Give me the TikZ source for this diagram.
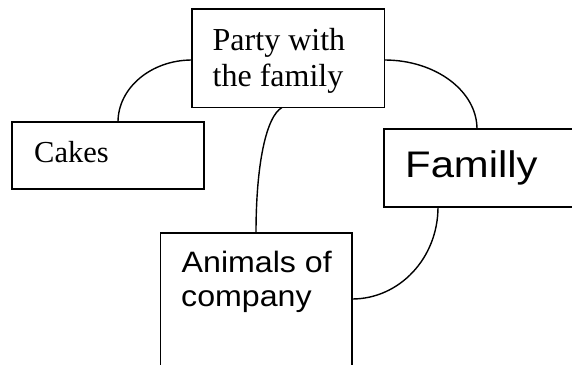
\documentclass[tikz,border=0pt]{standalone}
\usepackage{fontspec}
\setmainfont{Liberation Serif}
\newfontfamily\arialwide[FakeStretch=1.13]{Liberation Sans}
\newfontfamily\arialmid[FakeStretch=1.09]{Liberation Sans}
\usetikzlibrary{calc}
\tikzset{
  topicbox/.style={draw, line width=1.9pt, inner sep=0pt, outer sep=0pt, anchor=north west},
  serifword/.style={inner sep=0pt, anchor=base west, font=\fontsize{32}{37}\selectfont},
  cakeword/.style={inner sep=0pt, anchor=base west, font=\fontsize{30.5}{35}\selectfont},
  bigsans/.style={inner sep=0pt, anchor=base west, font=\arialwide\fontsize{37}{42}\selectfont},
  midsans/.style={inner sep=0pt, anchor=base west, font=\arialmid\fontsize{29.5}{34}\selectfont},
  link/.style={line width=1.4pt}
}
\begin{document}
\begin{tikzpicture}[x=1pt, y=-1pt]
  \clip (0,0) rectangle (572,364);
  \fill[white] (0,0) rectangle (572,364);

  % boxes
  \node[topicbox, minimum width=192.5pt, minimum height=98.5pt] (party) at (192,9) {};
  \node[topicbox, minimum width=192pt, minimum height=67pt] (cakes) at (12,122) {};
  \node[topicbox, minimum width=210pt, minimum height=78pt] (famly) at (384,129) {};
  \node[topicbox, minimum width=191.5pt, minimum height=150pt] (animals) at (160.5,233) {};

  % labels
  \node[serifword] (partyA) at (212.5,50) {Party with};
  \node[serifword] (partyB) at (212.5,86) {the family};
  \node[cakeword] (cakesT) at (34,162) {Cakes};
  \node[bigsans] (famlyT) at (405,177) {Familly};
  \node[midsans] (animalsA) at (181.5,272.5) {Animals of};
  \node[midsans] (animalsB) at (181,306.5) {company};

  % connectors
  \draw[link] ([yshift=-51pt]party.north west)
    .. controls +(-41,0) and +(0,-34) .. ([xshift=106pt]cakes.north west);
  \draw[link] ([yshift=-51pt]party.north east)
    .. controls +(51,0) and +(0,-38) .. ([xshift=93pt]famly.north west);
  \draw[link] ([xshift=90pt]party.south west)
    .. controls +(-16,9) and +(0,-68) .. ([xshift=95.5pt]animals.north west);
  \draw[link] ([xshift=54pt]famly.south west)
    .. controls +(0,51) and +(47.5,0) .. ([yshift=-66pt]animals.north east);
\end{tikzpicture}
\end{document}
